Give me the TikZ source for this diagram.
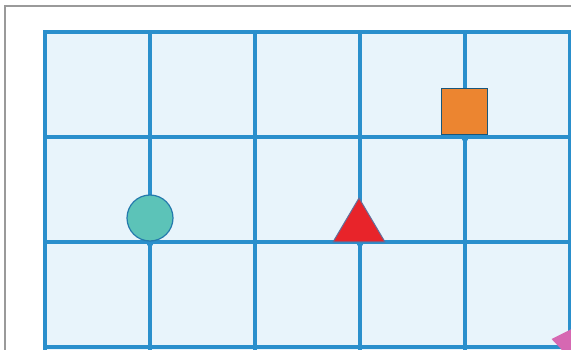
\documentclass[tikz,border=0pt]{standalone}
\usetikzlibrary{shapes.geometric}
\definecolor{gridblue}{HTML}{2A8FCC}
\definecolor{cellfill}{HTML}{E8F4FB}
\definecolor{frame}{HTML}{9A9A9A}
\definecolor{teal}{HTML}{5CC3B8}
\definecolor{tred}{HTML}{E8242A}
\definecolor{sorange}{HTML}{EC8530}
\definecolor{spink}{HTML}{D668B2}
\tikzset{
  gridline/.style={draw=gridblue, line width=4pt},
  pinmark/.style={circle, fill=gridblue, inner sep=0pt, minimum size=7pt},
  shapeedge/.style={draw=gridblue!85!black, line width=1.2pt}
}
\begin{document}
\begin{tikzpicture}[x=1pt,y=-1pt]
\useasboundingbox (0,0) rectangle (571,350);
\fill[white] (0,0) rectangle (571,350);
% outer gray frame
\draw[frame, line width=2pt] (4.5,360) -- (4.5,6.5) -- (580,6.5);
% grid cells
\fill[cellfill] (45,32) rectangle (575,355);
\foreach \x in {45,150,255,360,465,570} \draw[gridline] (\x,32) -- (\x,360);
\foreach \y in {32,137,242,347} \draw[gridline] (43,\y) -- (580,\y);
% intersection markers
\node[pinmark] (p1) at (150,243) {};
\node[pinmark] (p2) at (360,243) {};
\node[pinmark] (p3) at (465,138) {};
% circle
\node[circle, fill=teal, shapeedge, minimum size=46pt, inner sep=0pt] (circ) at (150,218) {};
% triangle
\coordinate (ta) at (359,198);
\coordinate (tb) at (333,242);
\coordinate (tc) at (385,242);
\filldraw[fill=tred, draw=gridblue!70!tred, line width=1pt, line join=round] (ta) -- (tb) -- (tc) -- cycle;
% square
\node[rectangle, fill=sorange, draw=gridblue!60!black, line width=1pt, minimum size=46pt, inner sep=0pt] (sq) at (464,112) {};
% star partly visible
\coordinate (st) at (591,346);
\fill[spink, shift={(st)}] (-170:40) -- (-134:25) -- (-98:40) -- (-62:25) -- (-26:40) -- (10:25) -- (46:40) -- (82:25) -- (118:40) -- (154:25) -- cycle;
\end{tikzpicture}
\end{document}
